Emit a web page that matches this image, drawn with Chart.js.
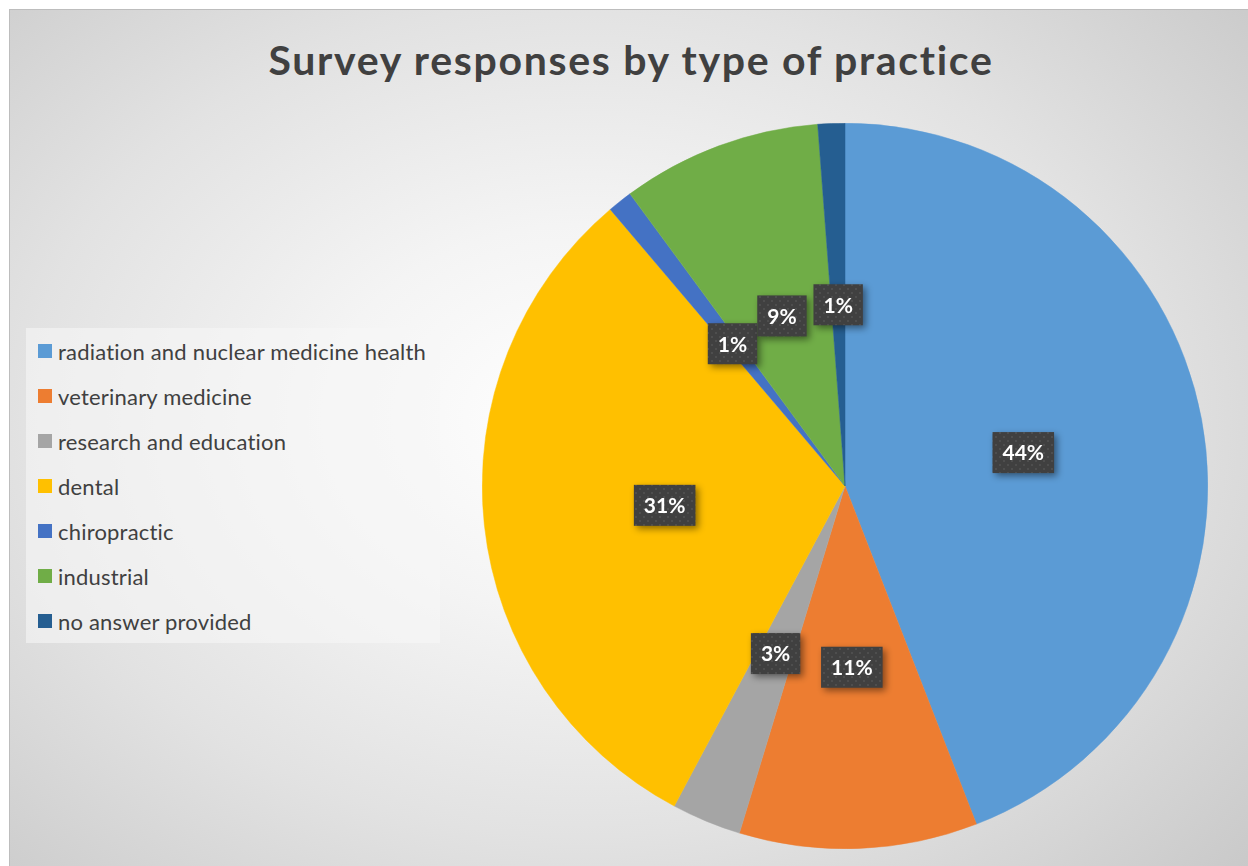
<!DOCTYPE html>
<html>
<head>
<meta charset="utf-8">
<script src="https://cdn.jsdelivr.net/npm/chart.js@4.4.0/dist/chart.umd.min.js"></script>
<style>
  html, body { margin: 0; padding: 0; width: 1248px; height: 866px; overflow: hidden; background: #ffffff; }
  #frame {
    position: absolute; left: 9px; top: 9px; width: 1250px; height: 870px;
    border-left: 1px solid #bdbdbd; border-top: 1px solid #bdbdbd;
    background: radial-gradient(ellipse 75% 80% at 46% 47%, #ffffff 0%, #f4f4f4 28%, #e2e2e2 60%, #cdcdcd 90%, #c6c6c6 100%);
  }
  #title {
    position: absolute; left: 0; width: 1262px; top: 39px; text-align: center; line-height: 1;
    font-family: Lato, "Open Sans", sans-serif; font-weight: bold; font-size: 41px; letter-spacing: 1.7px;
    color: #404040; white-space: nowrap;
  }
  #legend {
    position: absolute; left: 26px; top: 328px; width: 414px; height: 315px;
    background: rgba(246,246,246,0.6);
  }
  .item {
    position: absolute; left: 12px; height: 24px; display: flex; align-items: center;
    font-family: Lato, "Open Sans", sans-serif; font-size: 22px; letter-spacing: 0.2px; color: #404040; white-space: nowrap;
  }
  .sw { width: 14px; height: 14px; margin-right: 6px; flex: none; }
  #pieBox { position: absolute; left: 482px; top: 123px; width: 726px; height: 726px; }
</style>
</head>
<body>
<div id="frame"></div>
<div id="title">Survey responses by type of practice</div>
<div id="legend"></div>
<div id="pieBox"><canvas id="c"></canvas></div>
<script>
const categories = [
  "radiation and nuclear medicine health",
  "veterinary medicine",
  "research and education",
  "dental",
  "chiropractic",
  "industrial",
  "no answer provided"
];
const shares = [44.1, 10.6, 3.1, 31.0, 1.1, 8.9, 1.2];
const colors = ["#5B9BD5", "#ED7D31", "#A5A5A5", "#FFC000", "#4472C4", "#70AD47", "#255E91"];

// HTML legend
const legend = document.getElementById('legend');
categories.forEach((name, i) => {
  const d = document.createElement('div');
  d.className = 'item';
  d.style.top = (11 + i * 45) + 'px';
  d.innerHTML = '<span class="sw" style="background:' + colors[i] + '"></span><span></span>';
  d.lastChild.textContent = name;
  legend.appendChild(d);
});

// dotted pattern for label boxes
function makePattern(ctx) {
  const p = document.createElement('canvas');
  p.width = 8; p.height = 8;
  const pc = p.getContext('2d');
  pc.fillStyle = '#404040';
  pc.fillRect(0, 0, 8, 8);
  pc.fillStyle = '#4e4e4e';
  pc.fillRect(1, 1, 2, 2);
  pc.fillRect(5, 5, 2, 2);
  return ctx.createPattern(p, 'repeat');
}

const labelPlugin = {
  id: 'pctLabels',
  afterDatasetsDraw(chart) {
    const ctx = chart.ctx;
    const meta = chart.getDatasetMeta(0);
    const data = chart.data.datasets[0].data;
    const total = data.reduce((a, b) => a + b, 0);
    const pattern = makePattern(ctx);
    meta.data.forEach((arc, i) => {
      const p = arc.getProps(['x', 'y', 'startAngle', 'endAngle', 'outerRadius'], true);
      const mid = (p.startAngle + p.endAngle) / 2;
      const cx = p.x + Math.cos(mid) * p.outerRadius * 0.5;
      const cy = p.y + Math.sin(mid) * p.outerRadius * 0.5;
      const txt = Math.round(data[i] / total * 100) + '%';
      ctx.save();
      ctx.font = 'bold 21px Lato, "Open Sans", sans-serif';
      const w = ctx.measureText(txt).width + 20;
      const h = 41;
      ctx.shadowColor = 'rgba(0,0,0,0.45)';
      ctx.shadowBlur = 7;
      ctx.shadowOffsetX = 3;
      ctx.shadowOffsetY = 3;
      ctx.fillStyle = pattern;
      ctx.fillRect(cx - w / 2, cy - h / 2, w, h);
      ctx.shadowColor = 'transparent';
      ctx.fillStyle = '#ffffff';
      ctx.textAlign = 'center';
      ctx.textBaseline = 'middle';
      ctx.fillText(txt, cx, cy + 1);
      ctx.restore();
    });
  }
};

new Chart(document.getElementById('c'), {
  type: 'pie',
  data: {
    labels: categories,
    datasets: [{
      data: shares,
      backgroundColor: colors,
      borderColor: colors,
      borderWidth: 0.5
    }]
  },
  options: {
    responsive: true,
    maintainAspectRatio: false,
    animation: false,
    layout: { padding: 0 },
    plugins: {
      legend: { display: false },
      title: { display: false },
      tooltip: { enabled: false }
    }
  },
  plugins: [labelPlugin]
});
</script>
</body>
</html>
